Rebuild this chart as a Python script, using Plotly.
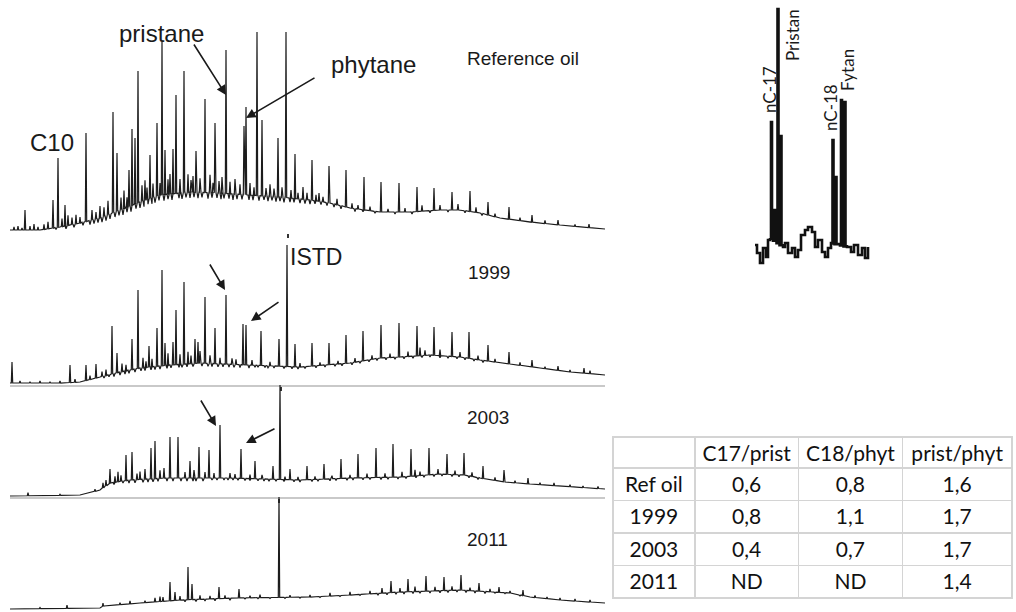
import numpy as np
import plotly.graph_objects as go

W, H = 1016, 612

# ---------------- chromatogram data (x: scan, y: abundance) ----------------
# Reference oil
ref_base_x = [10, 40, 60, 80, 100, 120, 140, 160, 190, 220, 250, 280, 310, 330, 350, 380, 410, 440, 460, 480, 500, 530, 560, 605]
ref_base_y = [8, 8, 11, 15, 20, 28, 36, 43, 46, 45, 43, 41, 38, 35, 30, 26, 26, 28, 28, 25, 20, 16, 13, 9]
ref_peak_x = [25, 53, 58, 65, 86, 113, 117, 129, 132, 135, 138, 150, 157, 162, 165, 173, 176, 184, 196, 205, 215, 226, 244, 246,
              257, 262, 278, 286, 295, 303, 312, 319, 329, 346, 364, 381, 399, 417, 434, 452, 470, 488, 509, 532, 558, 589]
ref_peak_top = [28, 38, 80, 33, 105, 126, 85, 68, 109, 100, 167, 83, 115, 196, 88, 89, 143, 167, 87, 139, 115, 188, 112, 131,
                206, 118, 100, 206, 84, 51, 78, 45, 72, 68, 61, 56, 55, 51, 50, 46, 47, 36, 31, 23, 18, 14]
ref_minor_x = [14, 18, 22, 30, 34, 38, 44, 48, 62, 68, 72, 76, 80, 92, 96, 100, 104, 108, 121, 124, 127, 142, 145, 147, 153,
               160, 168, 170, 180, 188, 191, 193, 200, 210, 213, 219, 222, 230, 235, 240, 250, 254, 266, 270, 274, 282, 291,
               298, 307, 316, 323, 337, 352, 358, 370, 388, 405, 422, 440, 458, 476, 495, 520, 545, 575]
ref_minor_h = [3, 4, 2, 4, 6, 3, 5, 7, 8, 10, 7, 9, 6, 10, 7, 12, 9, 14, 12, 18, 10, 16, 20, 12, 14,
               12, 15, 20, 14, 18, 12, 16, 14, 18, 10, 12, 16, 12, 15, 10, 12, 8, 8, 12, 8, 10, 8,
               6, 7, 6, 5, 6, 5, 4, 4, 3, 4, 6, 5, 6, 5, 3, 3, 3, 2]
ref_dip_x = [56, 66, 74, 83, 90, 94, 98, 102, 106, 110, 115, 119, 123, 127, 131, 136, 140, 144, 148, 152, 155, 159, 164, 168,
             172, 179, 182, 186, 190, 194, 198, 202, 208, 212, 217, 221, 224, 229, 233, 237, 242, 249, 253, 259, 264, 268,
             272, 276, 280, 284, 290, 294, 300, 305, 310, 315, 321, 327, 334, 341, 355, 363, 375, 395, 412, 430, 448, 465, 482]
ref_dip_d = [2, 3, 3, 3, 4, 4, 4, 5, 5, 5, 5, 5, 6, 5, 6, 5, 6, 6, 5, 6, 6, 5, 6, 5,
             6, 5, 6, 5, 6, 5, 6, 5, 6, 5, 5, 6, 5, 5, 6, 5, 5, 5, 5, 5, 4, 5,
             4, 5, 4, 5, 4, 4, 4, 4, 4, 3, 3, 3, 3, 3, 3, 2, 2, 2, 2, 2, 2, 2, 2]

# 1999
y99_base_x = [10, 60, 80, 100, 120, 140, 170, 200, 250, 300, 350, 380, 400, 430, 460, 480, 510, 540, 570, 605]
y99_base_y = [2, 2, 3, 8, 13, 17, 20, 22, 20, 18, 22, 27, 28, 30, 28, 25, 21, 17, 13, 10]
y99_peak_x = [12, 70, 86, 96, 112, 117, 132, 138, 149, 157, 162, 165, 173, 176, 184, 195, 198, 205, 215, 226, 243, 246, 261,
              279, 287, 295, 312, 329, 346, 363, 381, 399, 417, 434, 452, 469, 488, 509, 532, 558, 584]
y99_peak_top = [23, 20, 20, 21, 59, 32, 46, 95, 39, 57, 115, 42, 43, 75, 103, 46, 43, 88, 57, 90, 61, 60, 54,
                46, 140, 41, 42, 42, 50, 54, 60, 62, 59, 58, 53, 53, 40, 33, 25, 19, 17]
y99_minor_x = [20, 30, 40, 50, 60, 75, 90, 102, 106, 122, 126, 143, 146, 152, 168, 180, 188, 191, 200, 210, 220, 232, 236,
               252, 270, 300, 320, 338, 355, 372, 390, 408, 420, 425, 440, 460, 478, 495, 520, 545, 570, 590]
y99_minor_h = [2, 1, 2, 1, 2, 3, 4, 5, 6, 8, 6, 10, 6, 8, 12, 10, 12, 8, 12, 8, 6, 6, 5,
               5, 4, 4, 3, 3, 4, 4, 4, 5, 8, 5, 6, 5, 4, 3, 3, 2, 2, 3]
y99_dip_x = [104, 109, 114, 120, 125, 129, 135, 141, 145, 151, 155, 160, 167, 171, 179, 182, 187, 193, 202, 208, 212, 218,
             223, 229, 234, 240, 249, 255, 258, 265, 268, 274, 284, 292, 298, 305, 316, 325, 335, 342, 352, 360, 369, 377,
             386, 395, 404, 413, 422, 430, 440, 448, 457, 465, 474, 483]
y99_dip_d = [2, 2, 3, 3, 3, 3, 3, 3, 3, 3, 3, 3, 3, 3, 3, 3, 3, 3, 3, 3, 3, 3,
             3, 3, 3, 3, 3, 2, 2, 2, 2, 2, 2, 2, 2, 2, 2, 2, 2, 2, 2, 2, 2, 2,
             2, 2, 2, 2, 2, 2, 2, 2, 2, 2, 2, 2]

# 2003
y03_base_x = [10, 80, 100, 110, 130, 165, 230, 300, 350, 400, 440, 465, 480, 505, 530, 560, 605]
y03_base_y = [1, 2, 7, 14, 17, 19, 19, 17, 19, 20, 23, 22, 19, 15, 13, 11, 8]
y03_peak_x = [106, 110, 126, 132, 151, 155, 170, 178, 190, 199, 209, 220, 241, 255, 273, 280, 290, 307, 324, 341, 358, 376,
              393, 411, 429, 447, 464, 483, 504, 528, 554, 583]
y03_peak_top = [17, 28, 42, 45, 49, 56, 60, 60, 36, 50, 47, 72, 48, 36, 31, 112, 28, 31, 33, 38, 43, 49,
                53, 48, 49, 43, 44, 31, 27, 19, 14, 11]
y03_minor_x = [28, 60, 95, 103, 115, 118, 121, 137, 140, 145, 160, 164, 185, 194, 205, 214, 230, 235, 250, 262, 285, 298,
               315, 332, 350, 367, 385, 402, 415, 420, 438, 455, 472, 495, 515, 540, 570, 598]
y03_minor_h = [3, 1, 2, 5, 6, 10, 6, 6, 8, 10, 8, 10, 6, 8, 6, 5, 5, 4, 4, 4, 3, 3,
               3, 3, 3, 4, 4, 5, 6, 4, 5, 4, 4, 3, 2, 2, 2, 2]
y03_dip_x = [114, 123, 129, 135, 143, 148, 153, 158, 167, 173, 181, 187, 193, 196, 203, 212, 217, 224, 228, 233, 238, 245,
             250, 258, 264, 269, 276, 284, 294, 300, 312, 318, 330, 336, 347, 353, 363, 370, 381, 388, 398, 406, 416, 424,
             434, 442, 452, 459, 469, 478]
y03_dip_d = [2, 2, 3, 3, 3, 3, 3, 3, 3, 3, 3, 3, 3, 3, 3, 2, 2, 2, 2, 2, 2, 2,
             2, 2, 2, 2, 2, 2, 2, 2, 2, 2, 2, 2, 2, 2, 2, 2, 2, 2, 2, 2, 2, 2,
             2, 2, 2, 2, 2, 2]

# 2011
y11_base_x = [10, 100, 104, 140, 180, 233, 310, 350, 400, 460, 510, 530, 560, 605]
y11_base_y = [3, 4, 6, 9, 12, 14, 15, 17, 20, 22, 19, 15, 12, 9]
y11_peak_x = [67, 103, 163, 170, 175, 188, 192, 219, 239, 279, 391, 408, 426, 444, 461, 479, 499, 523, 547, 575]
y11_peak_top = [7, 9, 15, 30, 20, 45, 28, 25, 23, 115, 31, 33, 36, 35, 37, 29, 25, 22, 15, 13]
y11_minor_x = [40, 120, 130, 145, 155, 160, 180, 200, 210, 225, 250, 260, 290, 310, 330, 350, 370, 382, 400, 415,
               435, 452, 470, 490, 510, 535, 560, 590]
y11_minor_h = [1, 2, 3, 2, 4, 5, 4, 4, 3, 3, 2, 3, 2, 2, 3, 3, 3, 5, 4, 5,
               4, 4, 3, 3, 2, 2, 2, 2]
y11_dip_x = [185, 196, 205, 215, 230, 245, 258, 270, 285, 300, 320, 340, 360, 378, 387, 396, 404, 413, 420, 430, 440, 448,
             457, 466, 475, 485, 495, 505, 520]
y11_dip_d = [2, 2, 2, 2, 2, 1, 1, 1, 1, 1, 1, 1, 1, 2, 2, 2, 2, 2, 2, 2, 2, 2,
             2, 2, 2, 2, 1, 1, 1]

istd_scan = [288, 281, 279]

# Inset (nC-17 / pristane / nC-18 / phytane region)
ins_base_x = [755, 757, 760, 763, 766, 768, 770, 783, 785, 788, 792, 795, 798, 801, 805, 808, 812, 815, 818, 822,
              825, 828, 831, 847, 851, 854, 858, 862, 865, 868]
ins_base_y = [20, 12, 2, 17, 8, 25, 27, 18, 22, 12, 17, 8, 15, 30, 35, 38, 33, 18, 25, 13,
              8, 17, 22, 18, 13, 20, 10, 17, 7, 18]
ins_peak_x = [771, 774, 777.5, 780.5, 832.5, 835.5, 841, 844.5]
ins_peak_top = [143, 55, 256, 129, 125, 88, 165, 163]
ins_labels = ["nC-17", "Pristan", "nC-18", "Fytan"]

# Table
table_samples = ["Ref oil", "1999", "2003", "2011"]
table_header = ["", "C17/prist", "C18/phyt", "prist/phyt"]
c17_prist = [0.6, 0.8, 0.4, None]
c18_phyt = [0.8, 1.1, 0.7, None]
prist_phyt = [1.6, 1.7, 1.7, 1.4]


def fmt(v):
    return "ND" if v is None else f"{v:.1f}".replace(".", ",")


def build(bx, by, px, ptop, gx=(), gh=(), dx=(), dd=(), hw=0.7):
    bxa = np.asarray(bx, float)
    bya = np.asarray(by, float)
    segs = [(x, [(x, y)]) for x, y in zip(bx, by)]
    for x, t in zip(px, ptop):
        f = float(np.interp(x, bxa, bya))
        segs.append((x, [(x - hw, f), (x, t), (x + hw, f)]))
    for x, h in zip(gx, gh):
        f = float(np.interp(x, bxa, bya))
        segs.append((x, [(x - hw, f), (x, f + h), (x + hw, f)]))
    for x, d in zip(dx, dd):
        f = float(np.interp(x, bxa, bya))
        segs.append((x, [(x - 1.0, f), (x, f - d), (x + 1.0, f)]))
    segs.sort(key=lambda s: s[0])
    xs, ys = [], []
    for _, pts in segs:
        for a, b in pts:
            xs.append(a)
            ys.append(b)
    return xs, ys


fig = go.Figure()

panels = [
    (ref_base_x, ref_base_y, ref_peak_x, ref_peak_top, ref_minor_x, ref_minor_h, ref_dip_x, ref_dip_d),
    (y99_base_x, y99_base_y, y99_peak_x, y99_peak_top, y99_minor_x, y99_minor_h, y99_dip_x, y99_dip_d),
    (y03_base_x, y03_base_y, y03_peak_x, y03_peak_top, y03_minor_x, y03_minor_h, y03_dip_x, y03_dip_d),
    (y11_base_x, y11_base_y, y11_peak_x, y11_peak_top, y11_minor_x, y11_minor_h, y11_dip_x, y11_dip_d),
]
# pixel bands for each stacked panel (top, bottom)
bands = [(0, 238), (238, 385), (385, 497), (497, 612)]

for i, (bx, by, px, pt, gx, gh, dx, dd) in enumerate(panels, start=1):
    xs, ys = build(bx, by, px, pt, gx, gh, dx, dd)
    fig.add_trace(go.Scatter(x=xs, y=ys, mode="lines", xaxis=f"x{i}", yaxis=f"y{i}",
                             line=dict(color="#1c1c1c", width=1.2), hoverinfo="skip", showlegend=False))

xs, ys = build(ins_base_x, ins_base_y, ins_peak_x, ins_peak_top, hw=1.0)
fig.add_trace(go.Scatter(x=xs, y=ys, mode="lines", xaxis="x5", yaxis="y5", line_shape="hv",
                         line=dict(color="#111", width=2.6), hoverinfo="skip", showlegend=False))

cell_font = dict(family="Lato", size=21, color="#111")
fig.add_trace(go.Table(
    domain=dict(x=[613 / W, 1013 / W], y=[1 - 600 / H, 1 - 437 / H]),
    columnwidth=[82, 104, 104, 110],
    header=dict(values=table_header, height=31, fill_color="white", align="center",
                line=dict(color="#d4d4d4", width=1.5), font=cell_font),
    cells=dict(values=[table_samples, [fmt(v) for v in c17_prist], [fmt(v) for v in c18_phyt],
                       [fmt(v) for v in prist_phyt]],
               height=32.5, fill_color="white", align="center",
               line=dict(color="#d4d4d4", width=1.5), font=cell_font),
))

layout = dict(width=W, height=H, margin=dict(l=0, r=0, t=0, b=0),
              paper_bgcolor="white", plot_bgcolor="white", showlegend=False)

for i, (top, bot) in enumerate(bands, start=1):
    show_line = i in (2, 3)
    xa = dict(domain=[10 / W, 605 / W], range=[10, 605], anchor=f"y{i}", showgrid=False, zeroline=False,
              showticklabels=False, showline=show_line, linecolor="#c9c9c9", linewidth=1.5)
    if i <= 3:
        xa.update(tickmode="array", tickvals=[istd_scan[i - 1]], ticks="inside" if i == 1 else "outside",
                  ticklen=4, tickwidth=1.5, tickcolor="#333")
    else:
        xa.update(ticks="")
    layout[f"xaxis{i}"] = xa
    layout[f"yaxis{i}"] = dict(domain=[1 - bot / H, 1 - top / H], range=[0, bot - top], anchor=f"x{i}",
                               showgrid=False, zeroline=False, showticklabels=False, showline=False, ticks="")

layout["xaxis5"] = dict(domain=[740 / W, 880 / W], range=[740, 880], anchor="y5", showgrid=False,
                        zeroline=False, showticklabels=False, showline=False, ticks="")
layout["yaxis5"] = dict(domain=[1 - 265 / H, 1], range=[0, 265], anchor="x5", showgrid=False,
                        zeroline=False, showticklabels=False, showline=False, ticks="")
fig.update_layout(**layout)


def P(x, y):
    return x / W, 1 - y / H


ann = []
arial = "Liberation Sans, Arial, sans-serif"
for txt, (cx, cy), size in [("pristane", (161, 33), 24), ("phytane", (373, 65), 24), ("C10", (52, 142), 24),
                            ("Reference oil", (523, 58), 19), ("ISTD", (316, 257), 23),
                            ("1999", (489, 272), 19), ("2003", (488, 417), 19), ("2011", (487, 539), 19)]:
    ax_, ay_ = P(cx, cy)
    ann.append(dict(text=txt, x=ax_, y=ay_, xref="paper", yref="paper", showarrow=False,
                    xanchor="center", yanchor="middle", font=dict(family=arial, size=size, color="#1a1a1a")))

# arrows pointing at pristane / phytane peaks (data units of each panel)
arrows = [(1, 226, 143, 193, 195), (1, 246, 120, 316, 161),
          (2, 225, 95, 209, 122), (2, 251, 64, 280, 84),
          (3, 216, 71, 200, 98), (3, 246, 54, 276, 69)]
for p, hx, hy, tx, ty in arrows:
    ann.append(dict(text="", x=hx, y=hy, ax=tx, ay=ty, xref=f"x{p}", yref=f"y{p}", axref=f"x{p}", ayref=f"y{p}",
                    showarrow=True, arrowhead=2, arrowsize=1.2, arrowwidth=1.6, arrowcolor="#1a1a1a", standoff=0))

for txt, (cx, cy) in zip(ins_labels, [(769, 90), (792, 35), (830, 108), (847, 70)]):
    ax_, ay_ = P(cx, cy)
    ann.append(dict(text=txt, x=ax_, y=ay_, xref="paper", yref="paper", showarrow=False, textangle=-90,
                    xanchor="center", yanchor="middle", font=dict(family="Lato", size=17, color="#1a1a1a")))

fig.update_layout(annotations=ann)
fig.write_html("out.html")
